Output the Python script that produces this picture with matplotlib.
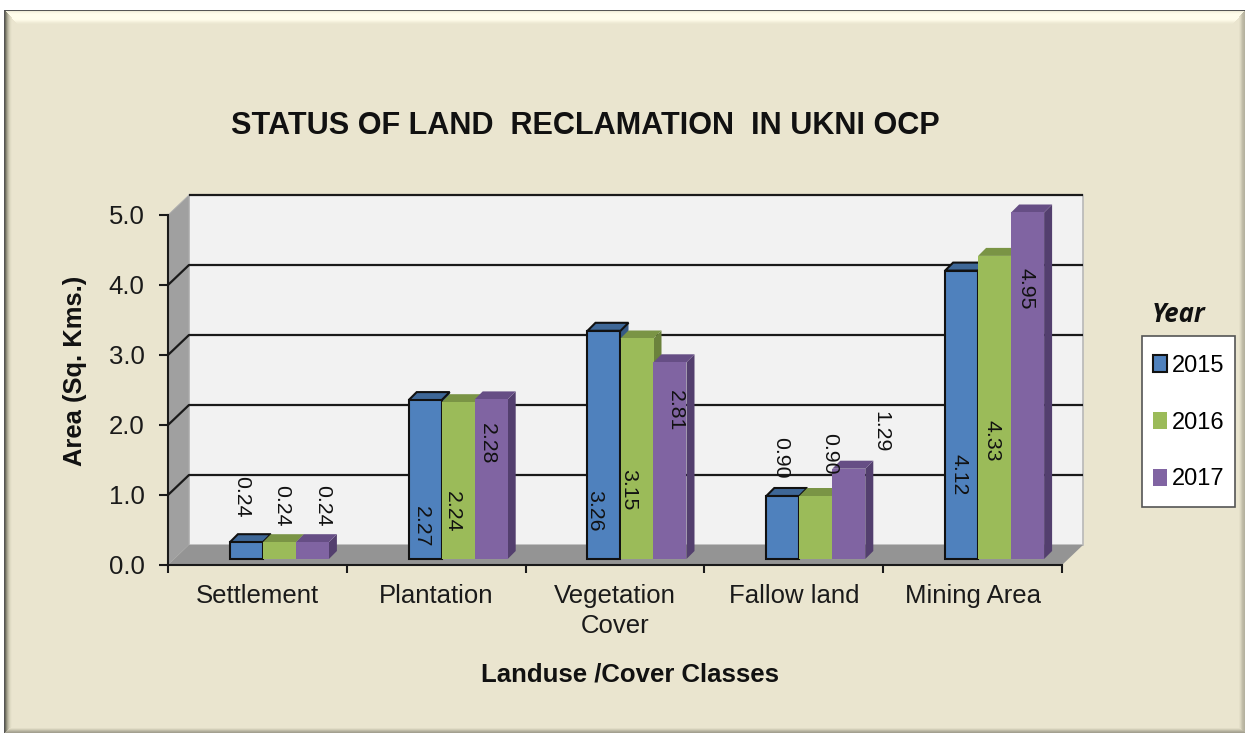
import numpy as np
import matplotlib
matplotlib.use("Agg")
import matplotlib.pyplot as plt
from matplotlib.patches import Polygon, Patch, Rectangle

plt.rcParams["font.family"] = ["Liberation Sans", "DejaVu Sans"]

categories = ["Settlement", "Plantation", "Vegetation\nCover", "Fallow land", "Mining Area"]
years = ["2015", "2016", "2017"]
values_2015 = [0.24, 2.27, 3.26, 0.90, 4.12]
values_2016 = [0.24, 2.24, 3.15, 0.90, 4.33]
values_2017 = [0.24, 2.28, 2.81, 1.29, 4.95]
series = [values_2015, values_2016, values_2017]

# hand placed labels, pixels from the top centre of each bar front (dy down)
label_dx = [[-5, 2, 10], [-4, -6, -4], [-9, -8, 5], [-2, 14, 32], [-3, -3, -2]]
label_dy = [[-45, -36, -36], [127, 110, 44], [180, 151, 48], [-38, -42, -37], [204, 185, 76]]

front = ["#4F81BD", "#9BBB59", "#8064A2"]
top = ["#3E6797", "#7A9445", "#664E85"]
side = ["#365A85", "#6B823C", "#533F6E"]

W, H = 1245, 733
fig = plt.figure(figsize=(W / 100, H / 100), dpi=100)

# panel with bevelled edges
base = np.array([234, 229, 207]) / 255
img = np.ones((H, W, 3)) * base
img[:10, :] = 1
img[:, :4] = 1
for i, c in enumerate(["#F0EDD9", "#F8F5E2", "#FDFAE8", "#FFFDEB", "#FFFDEC", "#FFFDEC", "#FFFDEC", "#FFFDEC",
                       "#FFFCEA", "#FBF8E5", "#F6F2DE", "#F0ECD7", "#ECE8D2"]):
    img[11 + i, 5 + i:W - i] = matplotlib.colors.to_rgb(c)
for i, c in enumerate(["#6E6D5E", "#8F8D7B", "#ABA895", "#C2BEA9", "#D4D0BA", "#E0DCC5", "#E7E2CC"]):
    img[11 + i:H - i, 5 + i] = matplotlib.colors.to_rgb(c)
for i, c in enumerate(["#B5B29F", "#BBB7A3", "#C1BDA9", "#CECAB5", "#DBD7C1", "#E4DFC9"]):
    img[11 + i:H - i, W - 1 - i] = matplotlib.colors.to_rgb(c)
for i, c in enumerate(["#A3A090", "#AFAC9A", "#C0BCA8", "#D2CEB8", "#E1DCC6"]):
    img[H - 1 - i, 5 + i:W - i] = matplotlib.colors.to_rgb(c)
img[10, 4:] = matplotlib.colors.to_rgb("#555555")
img[10:, 4] = matplotlib.colors.to_rgb("#555555")
bg = fig.add_axes([0, 0, 1, 1], zorder=0)
bg.imshow(img, aspect="auto", interpolation="nearest")
bg.axis("off")

# front plane of the 3d box
left, right, y0, y5 = 168, 1062, 565, 215
ax = fig.add_axes([left / W, 1 - y0 / H, (right - left) / W, (y0 - y5) / H], zorder=1)
ax.patch.set_visible(False)
ax.set_xlim(-0.5, 4.5)
ax.set_ylim(0, 5)
px = 5 / (right - left)
py = 5 / (y0 - y5)
wall_dx, wall_dy = 21 * px, 20 * py
x1, x2 = -0.5, 4.5


def poly(pts, color, edge="none", lw=0, z=1):
    ax.add_patch(Polygon(pts, closed=True, facecolor=color, edgecolor=edge, linewidth=lw, zorder=z, clip_on=False))


poly([(x1 + wall_dx, wall_dy), (x2 + wall_dx, wall_dy), (x2 + wall_dx, 5 + wall_dy), (x1 + wall_dx, 5 + wall_dy)],
     "#F2F2F2", "#B8B8B8", 1.2)
poly([(x1, 0), (x1 + wall_dx, wall_dy), (x1 + wall_dx, 5 + wall_dy), (x1, 5)], "#A0A0A0", "#B0B0B0", 0.6)
poly([(x1, 0), (x2, 0), (x2 + wall_dx, wall_dy), (x1 + wall_dx, wall_dy)], "#949494")

for v in range(1, 6):
    ax.plot([x1, x1 + wall_dx, x2 + wall_dx] if v < 5 else [x1 + wall_dx, x2 + wall_dx],
            [v, v + wall_dy, v + wall_dy] if v < 5 else [v + wall_dy, v + wall_dy],
            color="#1A1A1A", lw=1.6, zorder=2, clip_on=False, solid_capstyle="butt")

bar_w = 33 * px
shift = 22 * px
floor = 6 * py
depth_x, depth_y = 8 * px, 8 * py
for i in range(len(categories)):
    for j in range(3):
        v = series[j][i]
        xc = i + shift + (j - 1) * bar_w
        a, b = xc - bar_w / 2, xc + bar_w / 2
        t = floor + v
        edge = "#111111" if j == 0 else "none"
        lw = 1.5 if j == 0 else 0
        z = 3 + j
        poly([(b, floor), (b + depth_x, floor + depth_y), (b + depth_x, t + depth_y), (b, t)], side[j], z=z)
        poly([(a, t), (b, t), (b + depth_x, t + depth_y), (a + depth_x, t + depth_y)], top[j], edge, lw, z=z)
        ax.bar(xc, v, bar_w, bottom=floor, color=front[j], edgecolor=edge, linewidth=lw, zorder=z + 0.5, clip_on=False)
        ax.annotate(f"{v:.2f}", (xc, t), xytext=(label_dx[i][j], -label_dy[i][j]), textcoords="offset pixels",
                    rotation=270, ha="center", va="center", fontsize=15.3, color="#111111", zorder=8,
                    annotation_clip=False)

for s in ["top", "right"]:
    ax.spines[s].set_visible(False)
for s in ["left", "bottom"]:
    ax.spines[s].set_linewidth(1.5)
    ax.spines[s].set_color("#1A1A1A")
    ax.spines[s].set_zorder(6)
ax.set_yticks(range(6))
ax.set_yticklabels([f"{v:.1f}" for v in range(6)], fontsize=18.5, color="#1A1A1A")
ax.tick_params(axis="y", length=6.5, width=1.5, pad=10.5, color="#1A1A1A")
ax.set_xticks(np.arange(-0.5, 5))
ax.set_xticklabels([])
ax.tick_params(axis="x", which="major", length=6, width=1.5, color="#1A1A1A")
ax.set_xticks(range(5), minor=True)
ax.set_xticklabels(categories, minor=True, fontsize=18.5, linespacing=1.27, color="#1A1A1A")
ax.tick_params(axis="x", which="minor", length=0, pad=14)

fig.text(585 / W, 1 - 126 / H, "STATUS OF LAND  RECLAMATION  IN UKNI OCP", fontsize=22.1, fontweight="bold",
         ha="center", va="center", color="#111111", zorder=5)
fig.text(75 / W, 1 - 371 / H, "Area (Sq. Kms.)", fontsize=18.4, fontweight="bold", rotation=90,
         ha="center", va="center", color="#111111", zorder=5)
fig.text(630 / W, 1 - 674 / H, "Landuse /Cover Classes", fontsize=18.5, fontweight="bold",
         ha="center", va="center", color="#111111", zorder=5)
fig.text(1179 / W, 1 - 314 / H, "Year", fontsize=18.5, fontweight="bold", style="italic", family="Open Sans",
         ha="center", va="center", color="#111111", zorder=5)

fig.add_artist(Rectangle((1142 / W, 1 - 507 / H), 93 / W, 171 / H, transform=fig.transFigure, facecolor="white",
                         edgecolor="#555555", linewidth=1.2, zorder=4))
handles = [Patch(facecolor=front[j], edgecolor="#111111" if j == 0 else "none", linewidth=1.5 if j == 0 else 0,
                 label=years[j]) for j in range(3)]
leg = fig.legend(handles=handles, loc="upper left", bbox_to_anchor=(1153 / W, 1 - 355 / H), borderaxespad=0, ncol=1,
                 fontsize=17, frameon=False, labelspacing=1.47, handlelength=0.6, handleheight=0.75,
                 handletextpad=0.2, borderpad=0)
leg.set_zorder(5)

fig.savefig("out.png", dpi=100)
